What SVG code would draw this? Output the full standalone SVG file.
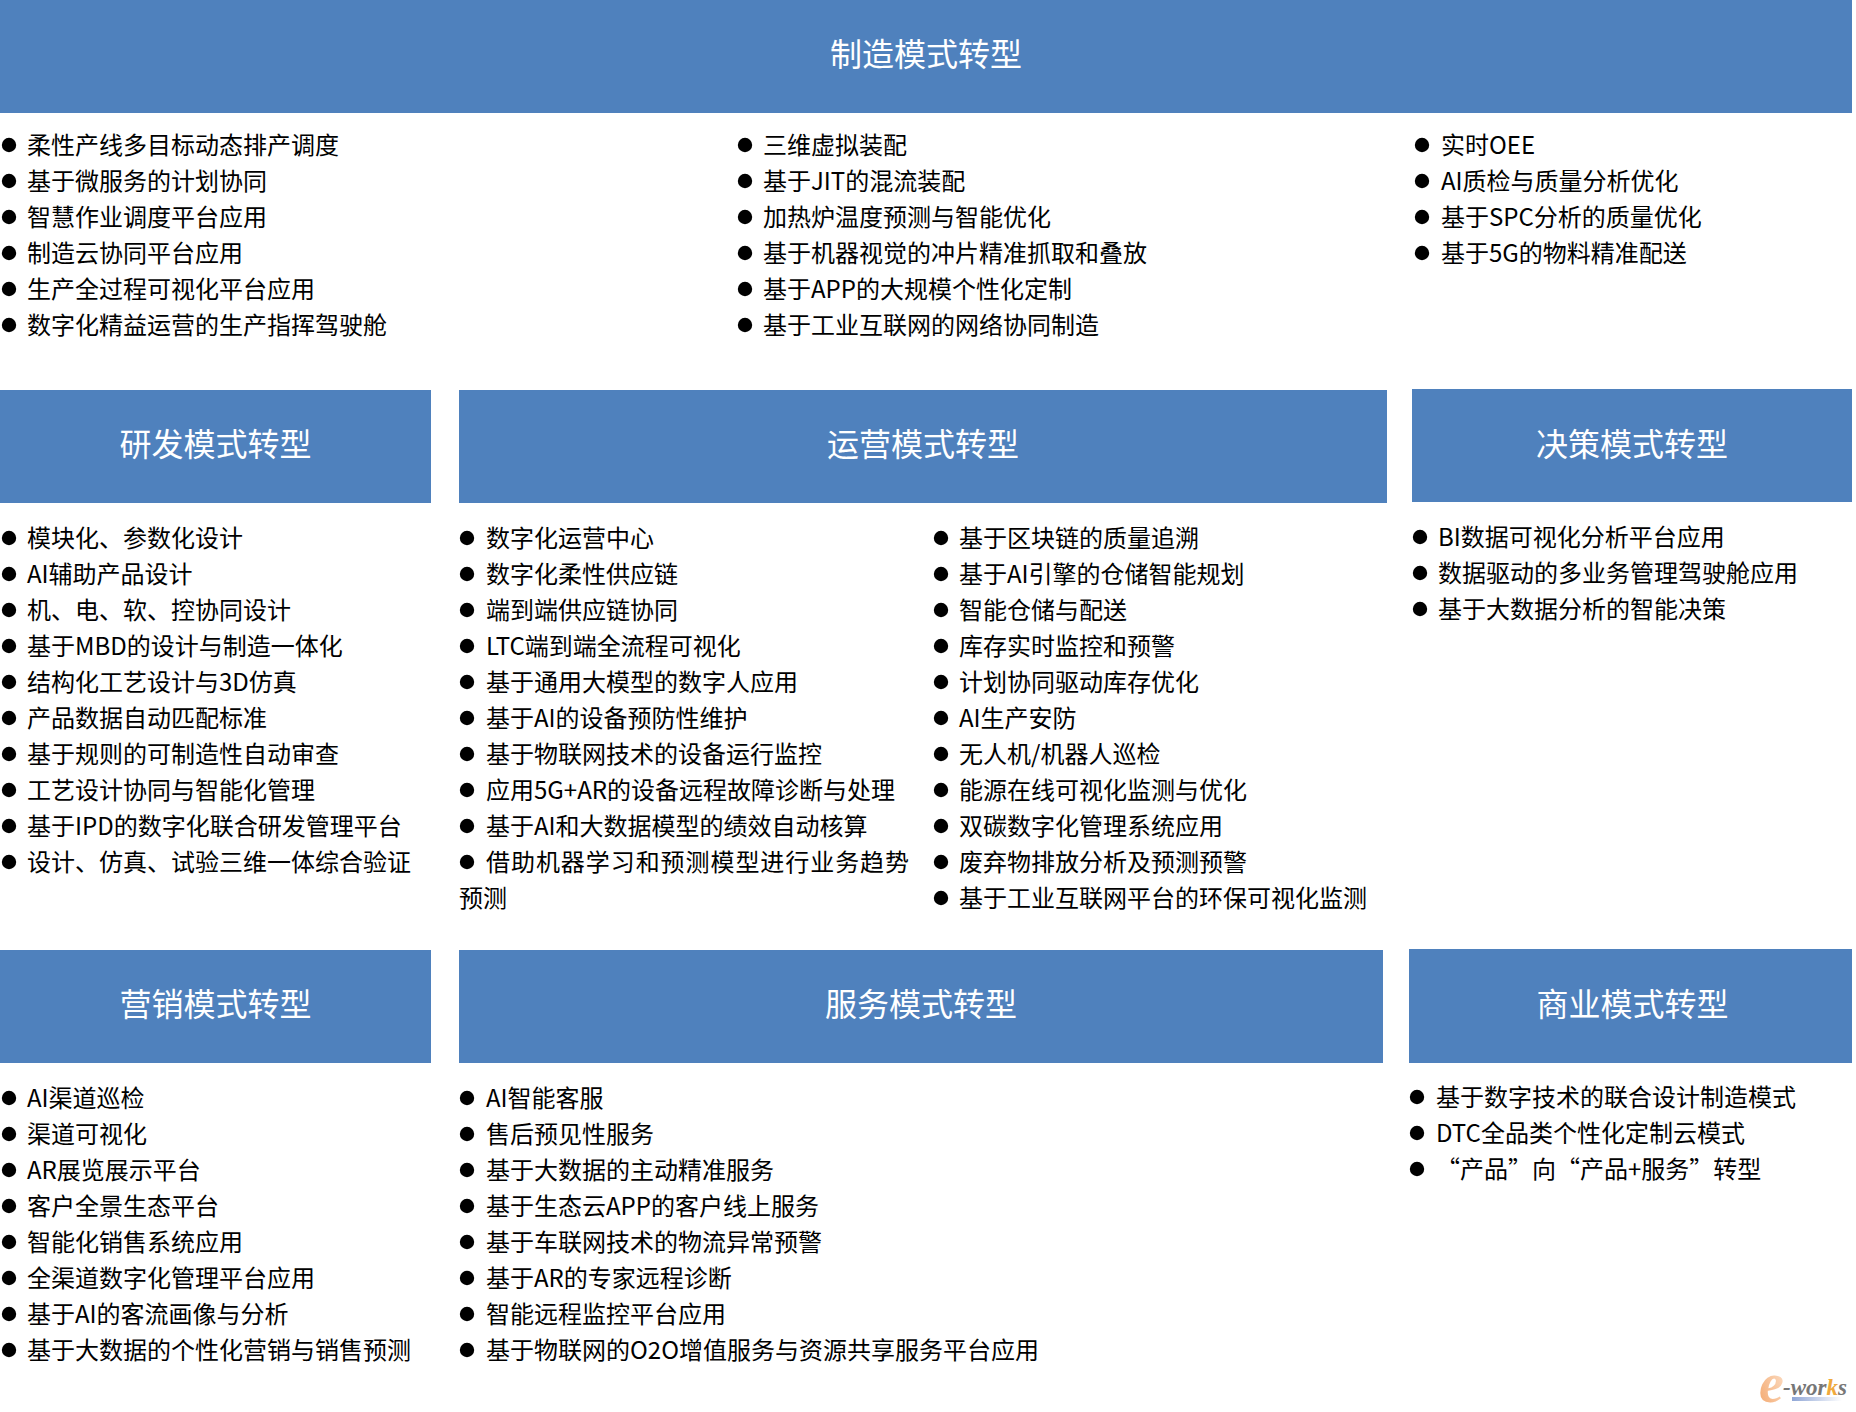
<svg xmlns="http://www.w3.org/2000/svg" width="1856" height="1412" viewBox="0 0 1856 1412">
<style>
.h{fill:#4f81bd}
.t{font-family:"Noto Sans CJK SC","Noto Sans",sans-serif;font-size:32px;fill:#fff;text-anchor:middle}
.l{font-family:"Noto Sans CJK SC","Noto Sans",sans-serif;font-size:24px;fill:#000}
.b{fill:#000}
</style>
<defs>
<linearGradient id="lg" x1="0" x2="1" y1="0" y2="0"><stop offset="0" stop-color="#8fa6d6"/><stop offset="1" stop-color="#fff"/></linearGradient>
<linearGradient id="eg" x1="0" x2="1" y1="1" y2="0"><stop offset="0" stop-color="#f3a468"/><stop offset="1" stop-color="#fde6d2"/></linearGradient>
</defs>
<rect width="1856" height="1412" fill="#fff"/>
<g id="manufacturing">
<rect class="h" x="0" y="0" width="1852" height="113"/>
<text class="t" x="926" y="66">制造模式转型</text>
<g class="b"><circle cx="9" cy="145" r="7.200"/><circle cx="9" cy="181" r="7.200"/><circle cx="9" cy="217" r="7.200"/><circle cx="9" cy="253" r="7.200"/><circle cx="9" cy="289" r="7.200"/><circle cx="9" cy="325" r="7.200"/>
<circle cx="745" cy="145" r="7.200"/><circle cx="745" cy="181" r="7.200"/><circle cx="745" cy="217" r="7.200"/><circle cx="745" cy="253" r="7.200"/><circle cx="745" cy="289" r="7.200"/><circle cx="745" cy="325" r="7.200"/>
<circle cx="1422" cy="145" r="7.200"/><circle cx="1422" cy="181" r="7.200"/><circle cx="1422" cy="217" r="7.200"/><circle cx="1422" cy="253" r="7.200"/></g>
<text class="l" x="27" y="154">柔性产线多目标动态排产调度</text>
<text class="l" x="27" y="190">基于微服务的计划协同</text>
<text class="l" x="27" y="226">智慧作业调度平台应用</text>
<text class="l" x="27" y="262">制造云协同平台应用</text>
<text class="l" x="27" y="298">生产全过程可视化平台应用</text>
<text class="l" x="27" y="334">数字化精益运营的生产指挥驾驶舱</text>
<text class="l" x="763" y="154">三维虚拟装配</text>
<text class="l" x="763" y="190">基于JIT的混流装配</text>
<text class="l" x="763" y="226">加热炉温度预测与智能优化</text>
<text class="l" x="763" y="262">基于机器视觉的冲片精准抓取和叠放</text>
<text class="l" x="763" y="298">基于APP的大规模个性化定制</text>
<text class="l" x="763" y="334">基于工业互联网的网络协同制造</text>
<text class="l" x="1441" y="154">实时OEE</text>
<text class="l" x="1441" y="190">AI质检与质量分析优化</text>
<text class="l" x="1441" y="226">基于SPC分析的质量优化</text>
<text class="l" x="1441" y="262">基于5G的物料精准配送</text>
</g>
<g id="rd">
<rect class="h" x="0" y="390" width="431" height="113"/>
<text class="t" x="215.500" y="456">研发模式转型</text>
<g class="b"><circle cx="9" cy="538" r="7.200"/><circle cx="9" cy="574" r="7.200"/><circle cx="9" cy="610" r="7.200"/><circle cx="9" cy="646" r="7.200"/><circle cx="9" cy="682" r="7.200"/><circle cx="9" cy="718" r="7.200"/><circle cx="9" cy="754" r="7.200"/><circle cx="9" cy="790" r="7.200"/><circle cx="9" cy="826" r="7.200"/><circle cx="9" cy="862" r="7.200"/></g>
<text class="l" x="27" y="547">模块化、参数化设计</text>
<text class="l" x="27" y="583">AI辅助产品设计</text>
<text class="l" x="27" y="619">机、电、软、控协同设计</text>
<text class="l" x="27" y="655">基于MBD的设计与制造一体化</text>
<text class="l" x="27" y="691">结构化工艺设计与3D仿真</text>
<text class="l" x="27" y="727">产品数据自动匹配标准</text>
<text class="l" x="27" y="763">基于规则的可制造性自动审查</text>
<text class="l" x="27" y="799">工艺设计协同与智能化管理</text>
<text class="l" x="27" y="835">基于IPD的数字化联合研发管理平台</text>
<text class="l" x="27" y="871">设计、仿真、试验三维一体综合验证</text>
</g>
<g id="operations">
<rect class="h" x="459" y="390" width="928" height="113"/>
<text class="t" x="923" y="456">运营模式转型</text>
<g class="b"><circle cx="467" cy="538" r="7.200"/><circle cx="467" cy="574" r="7.200"/><circle cx="467" cy="610" r="7.200"/><circle cx="467" cy="646" r="7.200"/><circle cx="467" cy="682" r="7.200"/><circle cx="467" cy="718" r="7.200"/><circle cx="467" cy="754" r="7.200"/><circle cx="467" cy="790" r="7.200"/><circle cx="467" cy="826" r="7.200"/><circle cx="467" cy="862" r="7.200"/>
<circle cx="941" cy="538" r="7.200"/><circle cx="941" cy="574" r="7.200"/><circle cx="941" cy="610" r="7.200"/><circle cx="941" cy="646" r="7.200"/><circle cx="941" cy="682" r="7.200"/><circle cx="941" cy="718" r="7.200"/><circle cx="941" cy="754" r="7.200"/><circle cx="941" cy="790" r="7.200"/><circle cx="941" cy="826" r="7.200"/><circle cx="941" cy="862" r="7.200"/><circle cx="941" cy="898" r="7.200"/></g>
<text class="l" x="486" y="547">数字化运营中心</text>
<text class="l" x="486" y="583">数字化柔性供应链</text>
<text class="l" x="486" y="619">端到端供应链协同</text>
<text class="l" x="486" y="655">LTC端到端全流程可视化</text>
<text class="l" x="486" y="691">基于通用大模型的数字人应用</text>
<text class="l" x="486" y="727">基于AI的设备预防性维护</text>
<text class="l" x="486" y="763">基于物联网技术的设备运行监控</text>
<text class="l" x="486" y="799">应用5G+AR的设备远程故障诊断与处理</text>
<text class="l" x="486" y="835">基于AI和大数据模型的绩效自动核算</text>
<text class="l" x="486" y="871" textLength="423" lengthAdjust="spacing">借助机器学习和预测模型进行业务趋势</text>
<text class="l" x="459" y="907">预测</text>
<text class="l" x="959" y="547">基于区块链的质量追溯</text>
<text class="l" x="959" y="583">基于AI引擎的仓储智能规划</text>
<text class="l" x="959" y="619">智能仓储与配送</text>
<text class="l" x="959" y="655">库存实时监控和预警</text>
<text class="l" x="959" y="691">计划协同驱动库存优化</text>
<text class="l" x="959" y="727">AI生产安防</text>
<text class="l" x="959" y="763">无人机/机器人巡检</text>
<text class="l" x="959" y="799">能源在线可视化监测与优化</text>
<text class="l" x="959" y="835">双碳数字化管理系统应用</text>
<text class="l" x="959" y="871">废弃物排放分析及预测预警</text>
<text class="l" x="959" y="907">基于工业互联网平台的环保可视化监测</text>
</g>
<g id="decision">
<rect class="h" x="1412" y="389" width="440" height="113"/>
<text class="t" x="1632" y="456">决策模式转型</text>
<g class="b"><circle cx="1420" cy="537" r="7.200"/><circle cx="1420" cy="573" r="7.200"/><circle cx="1420" cy="609" r="7.200"/></g>
<text class="l" x="1438" y="546">BI数据可视化分析平台应用</text>
<text class="l" x="1438" y="582">数据驱动的多业务管理驾驶舱应用</text>
<text class="l" x="1438" y="618">基于大数据分析的智能决策</text>
</g>
<g id="marketing">
<rect class="h" x="0" y="950" width="431" height="113"/>
<text class="t" x="215.500" y="1016">营销模式转型</text>
<g class="b"><circle cx="9" cy="1098" r="7.200"/><circle cx="9" cy="1134" r="7.200"/><circle cx="9" cy="1170" r="7.200"/><circle cx="9" cy="1206" r="7.200"/><circle cx="9" cy="1242" r="7.200"/><circle cx="9" cy="1278" r="7.200"/><circle cx="9" cy="1314" r="7.200"/><circle cx="9" cy="1350" r="7.200"/></g>
<text class="l" x="27" y="1107">AI渠道巡检</text>
<text class="l" x="27" y="1143">渠道可视化</text>
<text class="l" x="27" y="1179">AR展览展示平台</text>
<text class="l" x="27" y="1215">客户全景生态平台</text>
<text class="l" x="27" y="1251">智能化销售系统应用</text>
<text class="l" x="27" y="1287">全渠道数字化管理平台应用</text>
<text class="l" x="27" y="1323">基于AI的客流画像与分析</text>
<text class="l" x="27" y="1359">基于大数据的个性化营销与销售预测</text>
</g>
<g id="service">
<rect class="h" x="459" y="950" width="924" height="113"/>
<text class="t" x="921" y="1016">服务模式转型</text>
<g class="b"><circle cx="467" cy="1098" r="7.200"/><circle cx="467" cy="1134" r="7.200"/><circle cx="467" cy="1170" r="7.200"/><circle cx="467" cy="1206" r="7.200"/><circle cx="467" cy="1242" r="7.200"/><circle cx="467" cy="1278" r="7.200"/><circle cx="467" cy="1314" r="7.200"/><circle cx="467" cy="1350" r="7.200"/></g>
<text class="l" x="486" y="1107">AI智能客服</text>
<text class="l" x="486" y="1143">售后预见性服务</text>
<text class="l" x="486" y="1179">基于大数据的主动精准服务</text>
<text class="l" x="486" y="1215">基于生态云APP的客户线上服务</text>
<text class="l" x="486" y="1251">基于车联网技术的物流异常预警</text>
<text class="l" x="486" y="1287">基于AR的专家远程诊断</text>
<text class="l" x="486" y="1323">智能远程监控平台应用</text>
<text class="l" x="486" y="1359">基于物联网的O2O增值服务与资源共享服务平台应用</text>
</g>
<g id="business">
<rect class="h" x="1409" y="949" width="443" height="114"/>
<text class="t" x="1632.500" y="1016">商业模式转型</text>
<g class="b"><circle cx="1417" cy="1097" r="7.200"/><circle cx="1417" cy="1133" r="7.200"/><circle cx="1417" cy="1169" r="7.200"/></g>
<text class="l" x="1436" y="1106">基于数字技术的联合设计制造模式</text>
<text class="l" x="1436" y="1142">DTC全品类个性化定制云模式</text>
<text class="l" x="1436" y="1178">“产品”向“产品+服务”转型</text>
</g>
<g id="logo">
<rect x="1792" y="1397" width="50" height="4" fill="url(#lg)"/>
<text x="1759" y="1402" font-family="Liberation Serif,serif" font-style="italic" font-weight="bold" font-size="56" fill="url(#eg)">e</text>
<text x="1783" y="1395" font-family="Liberation Serif,serif" font-style="italic" font-weight="bold" font-size="23"><tspan fill="#777">-wor</tspan><tspan fill="#f0a93c">k</tspan><tspan fill="#777">s</tspan></text>
</g>
</svg>
